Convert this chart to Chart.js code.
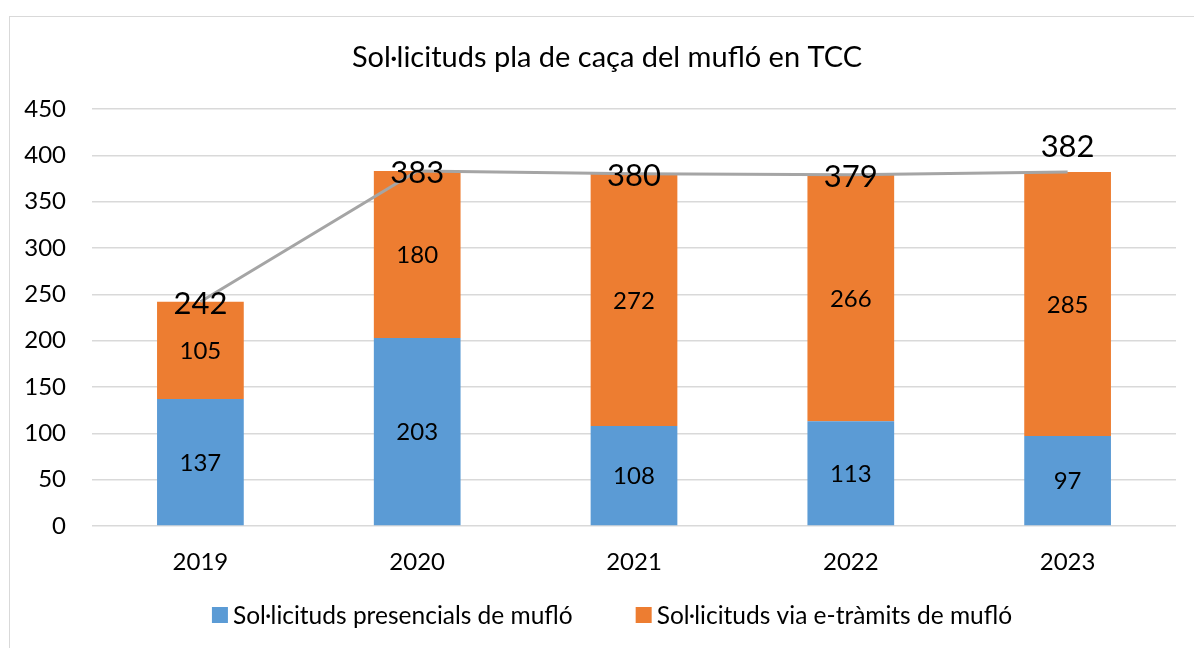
<!DOCTYPE html>
<html>
<head>
<meta charset="utf-8">
<script src="https://cdn.jsdelivr.net/npm/chart.js@4.4.0/dist/chart.umd.min.js"></script>
<style>
html,body{margin:0;padding:0;background:#fff;}
#wrap{position:relative;width:1194px;height:648px;}
#frame{position:absolute;left:9px;top:16px;width:1200px;height:700px;border-left:1.5px solid #d9d9d9;border-top:1.5px solid #d9d9d9;box-sizing:border-box;pointer-events:none;}
canvas{position:absolute;left:0;top:0;}
</style>
</head>
<body>
<div id="wrap">
<canvas id="c" width="1194" height="648"></canvas>
<div id="frame"></div>
</div>
<script>
const years = ['2019','2020','2021','2022','2023'];
const presencials = [137, 203, 108, 113, 97];
const etramits = [105, 180, 272, 266, 285];
const totals = [242, 383, 380, 379, 382];
const totalLabelPos = ['center','center','center','center','above'];
const titleText = 'Sol·licituds pla de caça del mufló en TCC';
const seriesNames = ['Sol·licituds presencials de mufló', 'Sol·licituds via e-tràmits de mufló', 'Total'];
const seriesColors = ['#5B9BD5', '#ED7D31', '#A5A5A5'];

const FONT = 'Lato, "Open Sans", sans-serif';

const labelPlugin = {
  id: 'labels',
  afterDatasetsDraw(chart) {
    const ctx = chart.ctx;
    ctx.save();
    ctx.fillStyle = '#000';
    ctx.textAlign = 'center';
    ctx.textBaseline = 'middle';
    ctx.font = '24px ' + FONT;
    [0,1].forEach(di => {
      const meta = chart.getDatasetMeta(di);
      meta.data.forEach((el, i) => {
        const v = chart.data.datasets[di].data[i];
        ctx.fillText(String(v), el.x, (el.y + el.base) / 2 + 1);
      });
    });
    ctx.font = '31px ' + FONT;
    const lm = chart.getDatasetMeta(2);
    lm.data.forEach((el, i) => {
      const v = chart.data.datasets[2].data[i];
      const dy = totalLabelPos[i] === 'above' ? -25 : 2;
      ctx.fillText(String(v), el.x, el.y + dy);
    });
    ctx.restore();
  },
  afterDraw(chart) {
    const ctx = chart.ctx;
    ctx.save();
    // title
    ctx.fillStyle = '#000';
    ctx.textAlign = 'center';
    ctx.textBaseline = 'middle';
    ctx.font = '29px ' + FONT;
    ctx.fillText(titleText, 607, 58);
    // legend for the two bar series
    ctx.font = '24.5px ' + FONT;
    ctx.textAlign = 'left';
    const box = 16, gapText = 5, gapItem = 63;
    const items = [0, 1].map(i => ({ text: seriesNames[i], color: seriesColors[i], w: box + gapText + ctx.measureText(seriesNames[i]).width }));
    const total = items.reduce((s, it) => s + it.w, 0) + gapItem * (items.length - 1);
    let x = 612 - total / 2;
    const cy = 615;
    items.forEach(it => {
      ctx.fillStyle = it.color;
      ctx.fillRect(x, cy - box / 2, box, box);
      ctx.fillStyle = '#000';
      ctx.fillText(it.text, x + box + gapText, cy + 1);
      x += it.w + gapItem;
    });
    ctx.restore();
  }
};

new Chart(document.getElementById('c'), {
  data: {
    labels: years,
    datasets: [
      { type: 'bar', label: seriesNames[0], data: presencials, backgroundColor: seriesColors[0], stack: 'bars', order: 2, barPercentage: 0.4, categoryPercentage: 1 },
      { type: 'bar', label: seriesNames[1], data: etramits, backgroundColor: seriesColors[1], stack: 'bars', order: 2, barPercentage: 0.4, categoryPercentage: 1 },
      { type: 'line', label: seriesNames[2], data: totals, borderColor: seriesColors[2], borderWidth: 3, pointRadius: 0, stack: 'line', order: 0, tension: 0 }
    ]
  },
  options: {
    responsive: false,
    animation: false,
    layout: { padding: { left: 0, right: 18, top: 109, bottom: 62 } },
    plugins: {
      tooltip: { enabled: false },
      title: { display: false },
      legend: { display: false }
    },
    scales: {
      x: {
        stacked: true,
        grid: { display: false, drawTicks: false },
        border: { display: false },
        ticks: { color: '#000', font: { family: FONT, size: 24 }, padding: 22 },
        afterFit(scale) { scale.height = 60; }
      },
      y: {
        stacked: true, min: 0, max: 450,
        ticks: { stepSize: 50, color: '#000', font: { family: FONT, size: 24 }, padding: 26 },
        grid: { color: '#d9d9d9', lineWidth: 1.5, drawTicks: false },
        border: { display: false },
        afterFit(scale) { scale.width = 92; }
      }
    }
  },
  plugins: [labelPlugin]
});
</script>
</body>
</html>
